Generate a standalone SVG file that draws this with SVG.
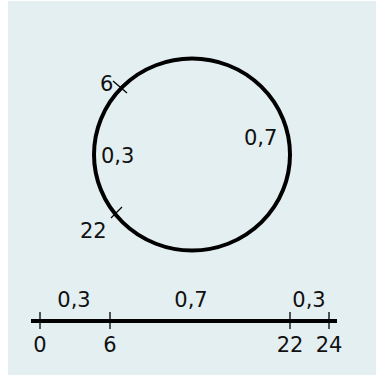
<svg xmlns="http://www.w3.org/2000/svg" width="376" height="376" viewBox="0 0 376 376">
<style>
text{font-family:"DejaVu Sans","Liberation Sans",sans-serif;font-size:21px;fill:#111}
.thick{stroke:#000;stroke-width:4;fill:none}
.tick{stroke:#000;stroke-width:1.3;fill:none}
</style>
<rect x="0" y="0" width="376" height="376" fill="#ffffff"/>
<rect x="8" y="1" width="368" height="374" fill="#e4eff1"/>
<g id="circle">
<ellipse cx="192" cy="154.5" rx="98" ry="96" class="thick"/>
<line x1="113" y1="81" x2="127" y2="93" class="tick"/>
<line x1="111" y1="218" x2="122" y2="207" class="tick"/>
<text x="100" y="91">6</text>
<text x="101" y="163">0,3</text>
<text x="244" y="145">0,7</text>
<text x="80" y="238">22</text>
</g>
<g id="numberline">
<line x1="31" y1="321" x2="337" y2="321" class="thick"/>
<line x1="40" y1="312" x2="40" y2="329" class="tick"/>
<line x1="110" y1="312" x2="110" y2="329" class="tick"/>
<line x1="290" y1="312" x2="290" y2="329" class="tick"/>
<line x1="329" y1="312" x2="329" y2="329" class="tick"/>
<text x="40" y="352" text-anchor="middle">0</text>
<text x="110" y="352" text-anchor="middle">6</text>
<text x="290" y="352" text-anchor="middle">22</text>
<text x="329" y="352" text-anchor="middle">24</text>
<text x="74" y="307" text-anchor="middle">0,3</text>
<text x="191" y="307" text-anchor="middle">0,7</text>
<text x="309" y="307" text-anchor="middle">0,3</text>
</g>
</svg>
